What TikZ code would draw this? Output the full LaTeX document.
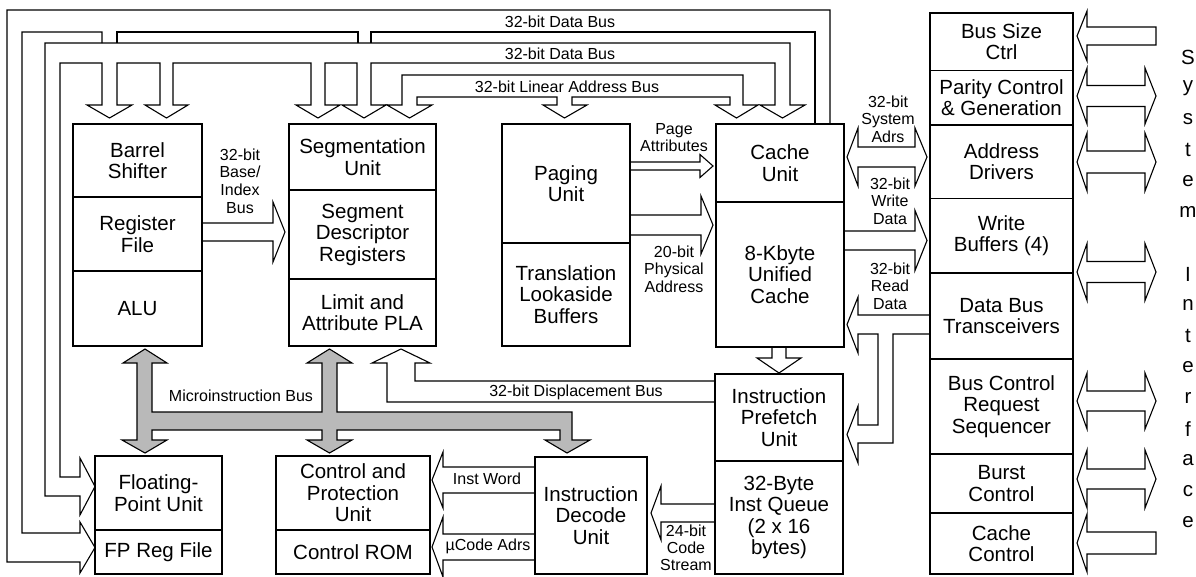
\documentclass[tikz,border=0pt]{standalone}
\usepackage{fontspec}
\setmainfont{Liberation Sans}
\newcommand\bigf{\fontsize{20.5}{21.5}\selectfont}
\newcommand\smf{\fontsize{16}{17.7}\selectfont}
\tikzset{
 blk/.style={draw, line width=1.1pt, inner sep=0pt, align=center, font=\bigf},
 bus/.style={draw, line width=1.1pt, line join=miter},
 lbl/.style={inner sep=0pt, align=center, font=\smf},
 ltr/.style={inner sep=0pt, font=\bigf},
 ubus/.style={draw, line width=1.1pt, fill=gray!55},
}
\newcommand\blk[6]{%
 \pgfmathsetmacro\bw{#4-#2}\pgfmathsetmacro\bh{#5-#3}%
 \node[blk,minimum width=\bw pt,minimum height=\bh pt] (#1) at ({(#2+#4)/2},{(#3+#5)/2}) {#6};}
% horizontal hollow arrow: x0, xbase, xtip, yc, half shaft, half head
\newcommand\harr[6]{\draw[bus] (#1,{#4-#5}) -- (#2,{#4-#5}) -- (#2,{#4-#6}) -- (#3,#4) -- (#2,{#4+#6}) -- (#2,{#4+#5}) -- (#1,{#4+#5});}
\newcommand\charr[6]{\draw[bus] (#1,{#4-#5}) -- (#2,{#4-#5}) -- (#2,{#4-#6}) -- (#3,#4) -- (#2,{#4+#6}) -- (#2,{#4+#5}) -- (#1,{#4+#5}) -- cycle;}
\newcommand\varr[6]{\draw[bus] ({#4-#5},#1) -- ({#4-#5},#2) -- ({#4-#6},#2) -- (#4,#3) -- ({#4+#6},#2) -- ({#4+#5},#2) -- ({#4+#5},#1);}
% double horizontal arrow: xtip1, xbase1, xbase2, xtip2, yc, s, h
\newcommand\dharr[7]{\draw[bus] (#2,{#5-#6}) -- (#3,{#5-#6}) -- (#3,{#5-#7}) -- (#4,#5) -- (#3,{#5+#7}) -- (#3,{#5+#6}) -- (#2,{#5+#6}) -- (#2,{#5+#7}) -- (#1,#5) -- (#2,{#5-#7}) -- cycle;}
\begin{document}
\begin{tikzpicture}[x=1pt,y=-1pt]
\useasboundingbox (0,0) rectangle (1196,576);
% ---- blocks ----
\blk{bar}{73}{124}{202}{197}{Barrel\\Shifter}
\blk{reg}{73}{197}{202}{271}{Register\\File}
\blk{alu}{73}{271}{202}{346}{ALU}
\blk{seg}{289}{124}{436}{190}{Segmentation\\Unit}
\blk{sdr}{289}{190}{436}{279}{Segment\\Descriptor\\Registers}
\blk{pla}{289}{279}{436}{346}{Limit and\\Attribute PLA}
\blk{pag}{502}{124}{630}{243}{Paging\\Unit}
\blk{tlb}{502}{243}{630}{346}{Translation\\Lookaside\\Buffers}
\blk{cu}{716}{124}{844}{202}{Cache\\Unit}
\blk{kc}{716}{202}{844}{347}{8-Kbyte\\Unified\\Cache}
\blk{ipu}{715}{374}{843}{461}{Instruction\\Prefetch\\Unit}
\blk{iq}{715}{461}{843}{574}{32-Byte\\Inst Queue\\(2 x 16\\bytes)}
\blk{fpu}{95}{456}{222}{530}{Floating-\\Point Unit}
\blk{fpr}{95}{530}{222}{574}{FP Reg File}
\blk{cpu}{276}{456}{430}{530}{Control and\\Protection\\Unit}
\blk{rom}{276}{530}{430}{574}{Control ROM}
\blk{idu}{535}{457}{647}{574}{Instruction\\Decode\\Unit}
\blk{bsz}{930}{13}{1073}{70.5}{Bus Size\\Ctrl}
\blk{par}{930}{70.5}{1073}{125}{Parity Control\\\& Generation}
\blk{adr}{930}{125}{1073}{198.5}{Address\\Drivers}
\blk{wb}{930}{198.5}{1073}{273}{Write\\Buffers (4)}
\blk{dbt}{930}{273}{1073}{359}{Data Bus\\Transceivers}
\blk{bcr}{930}{359}{1073}{454}{Bus Control\\Request\\Sequencer}
\blk{bur}{930}{454}{1073}{513}{Burst\\Control}
\blk{cc}{930}{513}{1073}{574}{Cache\\Control}
% ---- top buses ----
\draw[bus] (830,124) -- (830,10) -- (7,10) -- (7,562) -- (80,562) -- (80,573) -- (95,547.5) -- (80,522) -- (80,533) -- (22,533) -- (22,32) -- (102,32) -- (102,43);
\draw[bus] (117,43) -- (117,32) -- (358,32) -- (358,43);
\draw[bus] (371,43) -- (371,32) -- (815,32) -- (815,124);
\draw[bus] (790,43) -- (45,43) -- (45,496) -- (80,496) -- (80,515) -- (95,486.5) -- (80,458) -- (80,477) -- (60,477) -- (60,63)
 -- (102,63) -- (102,105) -- (87,105) -- (109.5,118) -- (132,105) -- (117,105) -- (117,63)
 -- (160,63) -- (160,105) -- (145,105) -- (166.5,118) -- (188,105) -- (173,105) -- (173,63)
 -- (311,63) -- (311,105) -- (296,105) -- (318,118) -- (340,105) -- (325,105) -- (325,63)
 -- (357,63) -- (357,105) -- (342,105) -- (364,118) -- (386,105) -- (371,105) -- (371,63)
 -- (775,63) -- (775,105) -- (760,105) -- (782.5,118) -- (805,105) -- (790,105) -- cycle;
\draw[bus] (417,105) -- (432,105) -- (409.5,118) -- (387,105) -- (402,105) -- (402,75) -- (743,75) -- (743,105) -- (758,105) -- (736.5,118) -- (715,105) -- (730,105) -- (730,97)
 -- (572,97) -- (572,105) -- (587,105) -- (564.5,118) -- (543,105) -- (557,105) -- (557,97) -- (417,97) -- cycle;
\node[lbl] (ldb1) at (560,22) {32-bit Data Bus};
\node[lbl] (ldb2) at (560,54) {32-bit Data Bus};
\node[lbl] (lla) at (567,87) {32-bit Linear Address Bus};
% ---- base/index ----
\harr{202}{273}{285}{232}{9}{30}
\node[lbl] (lbi) at (240,181) {32-bit\\Base/\\Index\\Bus};
% ---- paging to cache ----
\harr{630}{700}{713}{166}{4}{11.5}
\node[lbl] (lpa) at (674,137.5) {Page\\Attributes};
\harr{630}{701}{713}{225}{10}{29}
\node[lbl] (lphy) at (674,269) {20-bit\\Physical\\Address};
% ---- cache to prefetch ----
\varr{347}{358}{373}{779}{7}{22}
% ---- displacement bus ----
\draw[bus] (715,381) -- (415,381) -- (415,363) -- (430,363) -- (401,349) -- (372,363) -- (387,363) -- (387,402) -- (715,402);
\node[lbl] (ldisp) at (576,392) {32-bit Displacement Bus};
% ---- microinstruction bus ----
\draw[ubus] (145,349) -- (167,363) -- (152,363) -- (152,412) -- (322,412) -- (322,363) -- (307,363) -- (329.5,349) -- (352,363) -- (337,363) -- (337,412)
 -- (572,412) -- (572,440) -- (590,440) -- (567,453) -- (545,440) -- (560,440) -- (560,430) -- (337,430) -- (337,440) -- (352,440) -- (329.5,453) -- (307,440) -- (322,440)
 -- (322,430) -- (152,430) -- (152,440) -- (167,440) -- (145,453) -- (122,440) -- (137,440) -- (137,363) -- (123,363) -- cycle;
\node[lbl] (lmic) at (241,396) {Microinstruction Bus};
% ---- decode outputs ----
\harr{535}{443}{432}{480}{13}{28}
\node[lbl] (liw) at (487,479) {Inst Word};
\harr{535}{443}{432}{547}{13}{30}
\node[lbl] (luc) at (488,546) {µCode Adrs};
\harr{715}{661}{651}{513}{9}{27}
\node[lbl, font=\fontsize{16}{16.8}\selectfont] (lcs) at (686,548) {24-bit\\Code\\Stream};
% ---- cache <-> bus unit ----
\dharr{847}{858}{915}{927}{157}{10}{29}
\node[lbl] (lsa) at (888,119) {32-bit\\System\\Adrs};
\harr{844}{915}{927}{240.5}{9.5}{30}
\node[lbl] (lwd) at (890,201) {32-bit\\Write\\Data};
\draw[bus] (930,315) -- (858,315) -- (858,297) -- (847,324.5) -- (858,353) -- (858,334) -- (878,334) -- (878,425) -- (858,425) -- (858,406) -- (847,434.5) -- (858,463) -- (858,443) -- (893,443) -- (893,334) -- (930,334);
\node[lbl] (lrd) at (890,286) {32-bit\\Read\\Data};
% ---- system interface ----
\charr{1156}{1087}{1077}{36}{9}{25}
\dharr{1077}{1087}{1145}{1156}{96}{10.5}{28}
\dharr{1077}{1087}{1145}{1156}{162}{11}{29}
\dharr{1077}{1087}{1145}{1156}{272}{10.5}{28.5}
\dharr{1077}{1087}{1145}{1156}{401}{10}{28}
\dharr{1077}{1087}{1145}{1156}{479}{10}{29}
\charr{1156}{1087}{1077}{543}{11}{29}
\foreach \c/\yy [count=\i] in {S/57,y/88,s/119,t/150,e/181,m/212,I/274,n/305,t/336,e/367,r/398,f/429,a/460,c/491,e/522}
  \node[ltr] (si\i) at (1188,\yy) {\c};
\end{tikzpicture}
\end{document}
